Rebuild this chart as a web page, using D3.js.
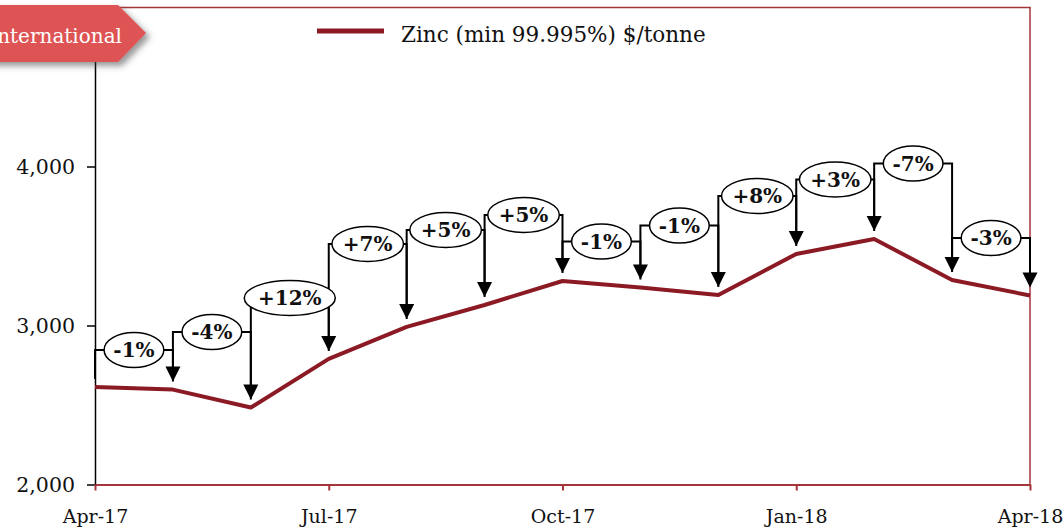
<!DOCTYPE html>
<html>
<head>
<meta charset="utf-8">
<script src="https://cdn.jsdelivr.net/npm/d3@7"></script>
<style>
  html, body { margin: 0; padding: 0; background: #fff; }
  svg { display: block; font-family: "DejaVu Serif", serif; }
</style>
</head>
<body>
<svg id="chart" width="1063" height="529"></svg>
<script>
// monthly zinc price, $/tonne
var months = ["Apr-17","May-17","Jun-17","Jul-17","Aug-17","Sep-17","Oct-17","Nov-17","Dec-17","Jan-18","Feb-18","Mar-18","Apr-18"];
var zinc = [2613, 2597, 2484, 2790, 2991, 3129, 3280, 3239, 3192, 3450, 3544, 3286, 3189];
// month on month change callouts and the price level they sit at
var changeLabels = ["-1%","-4%","+12%","+7%","+5%","+5%","-1%","-1%","+8%","+3%","-7%","-3%"];
var calloutLevels = [2846, 2959, 3173, 3513, 3601, 3695, 3528, 3629, 3814, 3918, 4019, 3550];
var yTicks = [2000, 3000, 4000];
var xTicks = ["Apr-17","Jul-17","Oct-17","Jan-18","Apr-18"];

var frameRed = '#a5353a';
var lineRed = '#8b1a24';

var svg = d3.select('#chart');

var x = d3.scalePoint().domain(months).range([95, 1030]);
var y = d3.scaleLinear().domain([2000, 5000]).range([484.5, 7.5]);

var defs = svg.append('defs');
defs.append('filter')
  .attr('id', 'shadow')
  .attr('x', '-10%').attr('y', '-20%').attr('width', '130%').attr('height', '160%')
  .append('feDropShadow')
  .attr('dx', 4).attr('dy', 4).attr('stdDeviation', 3)
  .attr('flood-color', '#444').attr('flood-opacity', 0.55);

// frame top + right
svg.append('path')
  .attr('d', 'M' + x(months[0]) + ',' + y(5000) + 'H' + x(months[12]) + 'V' + y(2000))
  .attr('fill', 'none')
  .attr('stroke', frameRed)
  .attr('stroke-width', 1.5);

// y axis
var yAxis = svg.append('g')
  .attr('transform', 'translate(' + x(months[0]) + ',0)')
  .call(d3.axisLeft(y).tickValues(yTicks).tickFormat(d3.format(',')).tickSize(8).tickSizeOuter(0).tickPadding(12));
yAxis.select('.domain').attr('stroke', '#000').attr('stroke-width', 1.5);
yAxis.selectAll('.tick line').attr('stroke', '#000').attr('stroke-width', 1.5);
yAxis.selectAll('.tick text')
  .attr('fill', '#111')
  .style('font-family', '"DejaVu Serif", serif')
  .style('font-size', '20.5px');

// x axis
var xAxis = svg.append('g')
  .attr('transform', 'translate(0,' + y(2000) + ')')
  .call(d3.axisBottom(x).tickValues(xTicks).tickSize(6).tickSizeOuter(0).tickPadding(19));
xAxis.select('.domain').attr('stroke', frameRed).attr('stroke-width', 2);
xAxis.selectAll('.tick line').attr('stroke', frameRed).attr('stroke-width', 2);
xAxis.selectAll('.tick text')
  .attr('fill', '#111')
  .style('font-family', '"DejaVu Serif", serif')
  .style('font-size', '19px');

// price line
var line = d3.line()
  .x(function(d, i){ return x(months[i]); })
  .y(function(d){ return y(d); });

svg.append('path')
  .datum(zinc)
  .attr('d', line)
  .attr('fill', 'none')
  .attr('stroke', lineRed)
  .attr('stroke-width', 4)
  .attr('stroke-linejoin', 'round');

// callout brackets and arrows
var callouts = changeLabels.map(function(lbl, i){
  return { label: lbl, level: calloutLevels[i], from: i, to: i + 1 };
});

var gap = 8, headLen = 15, headHalf = 7.5;
var brackets = svg.append('g');
callouts.forEach(function(c){
  var x0 = x(months[c.from]), x1 = x(months[c.to]);
  var yl = y(c.level);
  var tip = y(zinc[c.to]) - gap;
  brackets.append('path')
    .attr('d', 'M' + x0 + ',' + (y(zinc[c.from]) - gap) + 'V' + yl + 'H' + x1 + 'V' + (tip - headLen + 1))
    .attr('fill', 'none')
    .attr('stroke', '#000')
    .attr('stroke-width', 2);
  brackets.append('path')
    .attr('d', 'M' + (x1 - headHalf) + ',' + (tip - headLen) + 'L' + (x1 + headHalf) + ',' + (tip - headLen) + 'L' + x1 + ',' + tip + 'Z')
    .attr('fill', '#000');
});

// callout bubbles
var bubbles = svg.append('g').selectAll('g')
  .data(callouts)
  .join('g')
  .attr('transform', function(d){
    return 'translate(' + ((x(months[d.from]) + x(months[d.to])) / 2) + ',' + y(d.level) + ')';
  });

bubbles.append('ellipse')
  .attr('fill', '#fff')
  .attr('stroke', '#000')
  .attr('stroke-width', 1.5)
  .attr('ry', 17.5);

bubbles.append('text')
  .attr('text-anchor', 'middle')
  .attr('dy', '0.36em')
  .style('font-size', '20px')
  .style('font-weight', 'bold')
  .attr('fill', '#111')
  .text(function(d){ return d.label; });

bubbles.each(function(){
  var g = d3.select(this);
  var w = g.select('text').node().getComputedTextLength();
  g.select('ellipse').attr('rx', 0.7 * w + 1);
});

// legend
svg.append('line')
  .attr('x1', 317).attr('x2', 384)
  .attr('y1', 31).attr('y2', 31)
  .attr('stroke', lineRed)
  .attr('stroke-width', 5);
svg.append('text')
  .attr('x', 401).attr('y', 42)
  .style('font-size', '21.5px')
  .attr('fill', '#111')
  .text('Zinc (min 99.995%) $/tonne');

// section banner
svg.append('path')
  .attr('d', 'M-10,5H118L146,33L118,62H-10Z')
  .attr('fill', '#de5253')
  .attr('filter', 'url(#shadow)');
svg.append('text')
  .attr('x', 122).attr('y', 43)
  .attr('text-anchor', 'end')
  .style('font-size', '20px')
  .attr('fill', '#fff')
  .text('International');
</script>
</body>
</html>
